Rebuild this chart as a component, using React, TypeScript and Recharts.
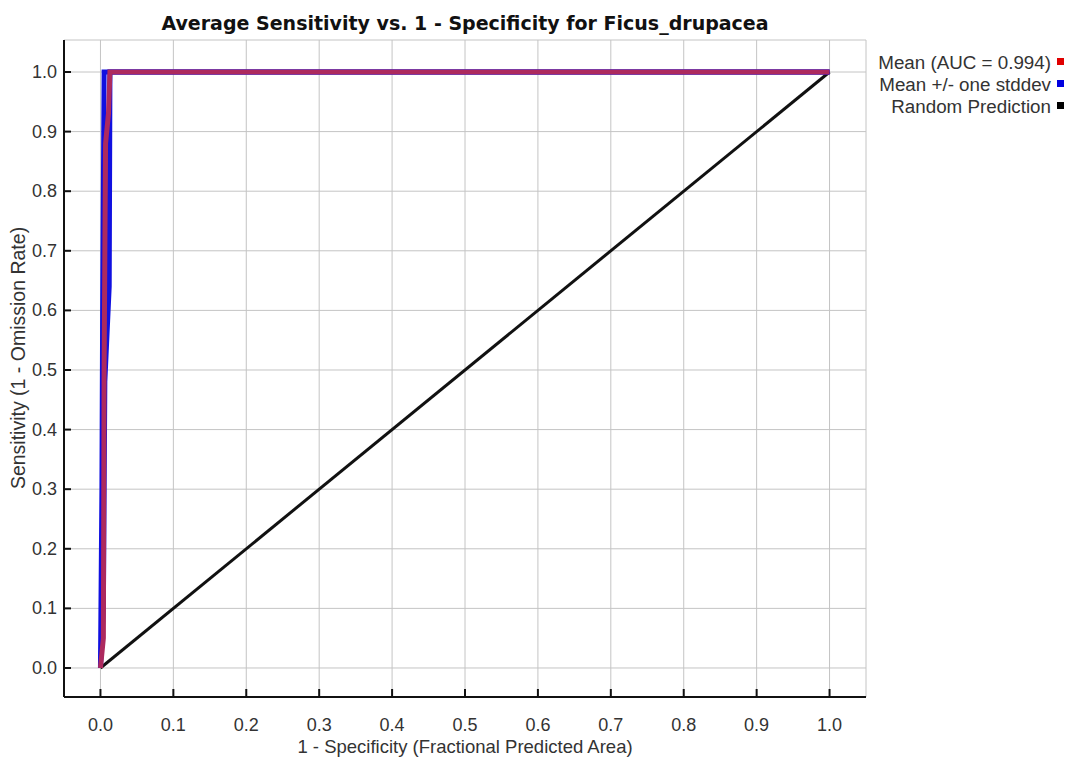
import { LineChart, Line, XAxis, YAxis, CartesianGrid } from 'recharts';

// ROC curve for Ficus_drupacea (MaxEnt style output)

const X_TICKS = [0, 0.1, 0.2, 0.3, 0.4, 0.5, 0.6, 0.7, 0.8, 0.9, 1.0];
const Y_TICKS = [0, 0.1, 0.2, 0.3, 0.4, 0.5, 0.6, 0.7, 0.8, 0.9, 1.0];

const MEAN_FPR = [0, 0.004, 0.005, 0.007, 0.011, 0.013, 1.0];
const MEAN_TPR = [0, 0.05, 0.5, 0.88, 0.93, 1.0, 1.0];

const UPPER_FPR = [0, 0.002, 0.003, 0.004, 0.005, 1.0];
const UPPER_TPR = [0, 0.3, 0.6, 0.8, 1.0, 1.0];

const LOWER_FPR = [0, 0.004, 0.006, 0.012, 0.013, 1.0];
const LOWER_TPR = [0, 0.1, 0.48, 0.64, 1.0, 1.0];

const RANDOM_FPR = [0, 1];
const RANDOM_TPR = [0, 1];

const LEGEND_LABELS = ['Mean (AUC = 0.994)', 'Mean +/- one stddev', 'Random Prediction'];
const LEGEND_COLORS = ['#e00000', '#0000e0', '#000000'];

const TITLE = 'Average Sensitivity vs. 1 - Specificity for Ficus_drupacea';
const X_LABEL = '1 - Specificity (Fractional Predicted Area)';
const Y_LABEL = 'Sensitivity (1 - Omission Rate)';

const W = 1067;
const H = 762;
const FONT = '"Liberation Sans", Arial, sans-serif';
const X_DOMAIN = [-0.05, 1.05];
const Y_DOMAIN = [-0.0487, 1.0537];

const toPoints = (xs: number[], ys: number[]) => xs.map((x, i) => ({ x, y: ys[i] }));

const BottomTick = ({ x, y, payload }: any) => (
  <g>
    <line x1={x} x2={x} y1={y} y2={y - 8} stroke="#111" strokeWidth={2} />
    <text x={x} y={y + 34} textAnchor="middle" fontSize={18} fill="#333" fontFamily={FONT}>
      {payload.value.toFixed(1)}
    </text>
  </g>
);

const LeftTick = ({ x, y, payload }: any) => (
  <g>
    <line x1={x} x2={x + 7} y1={y} y2={y} stroke="#111" strokeWidth={2} />
    <text x={x - 7} y={y + 6} textAnchor="end" fontSize={18} fill="#333" fontFamily={FONT}>
      {payload.value.toFixed(1)}
    </text>
  </g>
);

const TopTick = ({ x, y }: any) => (
  <line x1={x} x2={x} y1={y} y2={y + 8} stroke="#111" strokeWidth={2} />
);

const RightTick = ({ x, y }: any) => (
  <line x1={x} x2={x - 7} y1={y} y2={y} stroke="#111" strokeWidth={2} />
);

export default function App() {
  const mean = toPoints(MEAN_FPR, MEAN_TPR);
  const upper = toPoints(UPPER_FPR, UPPER_TPR);
  const lower = toPoints(LOWER_FPR, LOWER_TPR);
  const random = toPoints(RANDOM_FPR, RANDOM_TPR);

  return (
    <div style={{ position: 'absolute', left: 0, top: 0, width: W, height: H, background: '#fff' }}>
      <LineChart width={W} height={H} margin={{ top: 40, right: 201, bottom: 0, left: 0 }}>
        <CartesianGrid stroke="#c4c4c4" strokeWidth={1} />
        <XAxis
          dataKey="x"
          type="number"
          domain={X_DOMAIN}
          ticks={X_TICKS}
          allowDataOverflow
          height={65}
          tickSize={0}
          tickMargin={0}
          tickLine={false}
          axisLine={{ stroke: '#111', strokeWidth: 2 }}
          tick={<BottomTick />}
          interval={0}
        />
        <XAxis
          xAxisId="top"
          orientation="top"
          dataKey="x"
          type="number"
          domain={X_DOMAIN}
          ticks={X_TICKS}
          allowDataOverflow
          height={0}
          tickSize={0}
          tickMargin={0}
          tickLine={false}
          axisLine={{ stroke: '#111', strokeWidth: 2 }}
          tick={<TopTick />}
          interval={0}
        />
        <YAxis
          type="number"
          domain={Y_DOMAIN}
          ticks={Y_TICKS}
          allowDataOverflow
          width={64}
          tickSize={0}
          tickMargin={0}
          tickLine={false}
          axisLine={{ stroke: '#111', strokeWidth: 2 }}
          tick={<LeftTick />}
          interval={0}
        />
        <YAxis
          yAxisId="right"
          orientation="right"
          type="number"
          domain={Y_DOMAIN}
          ticks={Y_TICKS}
          allowDataOverflow
          width={0}
          tickSize={0}
          tickMargin={0}
          tickLine={false}
          axisLine={{ stroke: '#111', strokeWidth: 2 }}
          tick={<RightTick />}
          interval={0}
        />
        <Line data={random} dataKey="y" type="linear" stroke="#111" strokeWidth={3} dot={false} isAnimationActive={false} />
        <Line data={upper} dataKey="y" type="linear" stroke="#1010e0" strokeWidth={5} dot={false} isAnimationActive={false} />
        <Line data={lower} dataKey="y" type="linear" stroke="#1010e0" strokeWidth={5} dot={false} isAnimationActive={false} />
        <Line data={mean} dataKey="y" type="linear" stroke="#ad2a5e" strokeWidth={5} dot={false} isAnimationActive={false} />
      </LineChart>

      <svg width={W} height={H} style={{ position: 'absolute', left: 0, top: 0, pointerEvents: 'none' }}>
        <text x={465} y={30} textAnchor="middle" fontSize={19} fontWeight="bold" fill="#111" fontFamily='"DejaVu Sans", sans-serif'>
          {TITLE}
        </text>
        <text x={465} y={753} textAnchor="middle" fontSize={18.5} fill="#333" fontFamily={FONT}>
          {X_LABEL}
        </text>
        <text
          x={0}
          y={0}
          transform="translate(25, 358) rotate(-90)"
          textAnchor="middle"
          fontSize={19.5}
          fill="#333"
          fontFamily={FONT}
        >
          {Y_LABEL}
        </text>
        {LEGEND_LABELS.map((label, i) => (
          <g key={label}>
            <text x={1051} y={68.5 + i * 22} textAnchor="end" fontSize={18.8} fill="#333" fontFamily={FONT}>
              {label}
            </text>
            <rect x={1057} y={58 + i * 22} width={7} height={7} fill={LEGEND_COLORS[i]} />
          </g>
        ))}
      </svg>
    </div>
  );
}
